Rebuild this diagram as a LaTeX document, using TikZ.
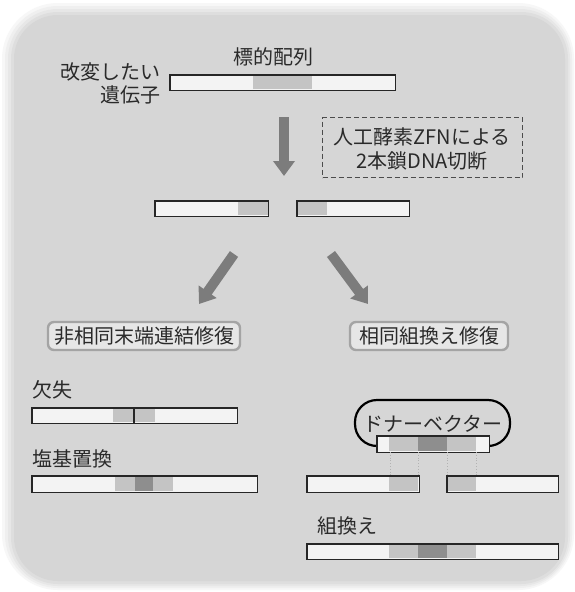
\documentclass[tikz,border=0pt]{standalone}
\usepackage{fontspec}
\setmainfont{Noto Sans CJK JP}
\usetikzlibrary{arrows.meta,calc}
\definecolor{bgpanel}{HTML}{D6D6D6}
\definecolor{barfill}{HTML}{F3F3F3}
\definecolor{lgray}{HTML}{C4C4C4}
\definecolor{dgray}{HTML}{8E8E8E}
\definecolor{arrowgray}{HTML}{7C7C7C}
\definecolor{boxborder}{HTML}{A4A4A4}
\definecolor{boxfill}{HTML}{E6E6E6}
\definecolor{txt}{HTML}{2A2A2A}
\tikzset{
  barbase/.style={fill=barfill, minimum height=15pt, inner sep=0pt, anchor=north west},
  barline/.style={draw=black!85, line width=1.1pt},
  lbl/.style={font=\fontsize{20}{23}\selectfont, text=txt, inner sep=0pt},
  fatarrow/.style={draw=arrowgray, line width=10pt, -{Triangle[width=21pt,length=15pt]}},
  repairbox/.style={draw=boxborder, line width=2.4pt, fill=boxfill, rounded corners=6pt,
    font=\fontsize{20}{23}\selectfont, text=txt, inner sep=0pt},
  pillshape/.style={draw=black, line width=2.2pt, rounded corners=22pt, fill=bgpanel,
    minimum width=155pt, minimum height=46pt, inner sep=0pt},
  guide/.style={draw=gray!60, line width=0.8pt, dotted}
}
\begin{document}
\begin{tikzpicture}[x=1pt,y=-1pt]
\useasboundingbox (0,0) rectangle (575,592);
\fill[white] (0,0) rectangle (575,592);
% background panel with soft edge
\fill[bgpanel!20, rounded corners=56pt] (2,3) rectangle (574,590);
\fill[bgpanel!40, rounded corners=53pt] (5,6) rectangle (572,588);
\fill[bgpanel!60, rounded corners=50pt] (8,9) rectangle (570,586);
\fill[bgpanel!80, rounded corners=47pt] (11,12) rectangle (568,584);
\fill[bgpanel, rounded corners=44pt] (14,15) rectangle (565,581);

% ---- target gene
\node[lbl] (target) at (273,57) {標的配列};
\node[lbl, anchor=east] (gene1) at (161,72) {改変したい};
\node[lbl, anchor=east] (gene2) at (161,95) {遺伝子};
\node[barbase, minimum width=225pt] (topbar) at (170,75) {};
\fill[lgray] (253,76) rectangle (312,89);
\draw[barline] (topbar.north west) rectangle (topbar.south east);

% ---- ZFN cleavage
\coordinate (a1s) at (284,117);
\coordinate (a1e) at (284,176);
\draw[fatarrow] (a1s) -- (a1e);
\node[draw=gray!60!black, dash pattern=on 5pt off 3pt, line width=1pt, minimum width=200pt, minimum height=60pt,
  anchor=north west, inner sep=0pt] (zfn) at (322,117) {};
\node[lbl] (zfn1) at (422,137) {人工酵素ZFNによる};
\node[lbl] (zfn2) at (422,161) {2本鎖DNA切断};

% ---- cut fragments
\node[barbase, minimum width=113pt] (cutL) at (155,201) {};
\fill[lgray] (238,202) rectangle (268,215);
\draw[barline] (cutL.north west) rectangle (cutL.south east);
\node[barbase, minimum width=112pt] (cutR) at (297,201) {};
\fill[lgray] (297,202) rectangle (327,215);
\draw[barline] (cutR.north west) rectangle (cutR.south east);

% ---- branch arrows
\coordinate (a2s) at (234,254);
\coordinate (a2e) at (199,304);
\coordinate (a3s) at (331,254);
\coordinate (a3e) at (368,304);
\draw[fatarrow] (a2s) -- (a2e);
\draw[fatarrow] (a3s) -- (a3e);

% ---- repair pathways
\node[repairbox, minimum width=192pt, minimum height=28pt] (nhej) at (144,336) {非相同末端連結修復};
\node[repairbox, minimum width=158pt, minimum height=28pt] (hr) at (429,336) {相同組換え修復};

% ---- deletion
\node[lbl, anchor=west] (del) at (32,390) {欠失};
\node[barbase, minimum width=205pt] (delbar) at (32,408) {};
\fill[lgray] (113,409) rectangle (133,422);
\fill[lgray] (135,409) rectangle (155,422);
\draw[barline] (delbar.north west) rectangle (delbar.south east);
\draw[black!85, line width=1.1pt] (134,408) -- (134,423);

% ---- base substitution
\node[lbl, anchor=west] (sub) at (32,459) {塩基置換};
\node[barbase, minimum width=225pt, minimum height=16pt] (subbar) at (32,476) {};
\fill[lgray] (115,477) rectangle (135,491);
\fill[dgray] (135,477) rectangle (153,491);
\fill[lgray] (153,477) rectangle (173,491);
\draw[barline] (subbar.north west) rectangle (subbar.south east);

% ---- donor vector
\node[pillshape] (donor) at (432.5,423) {};
\node[lbl] (donortxt) at (433,424) {ドナーベクター};
\node[barbase, minimum width=112pt, minimum height=16pt] (donorbar) at (377,436) {};
\fill[lgray] (389,437) rectangle (418,451);
\fill[dgray] (418,437) rectangle (447,451);
\fill[lgray] (447,437) rectangle (476,451);
\draw[barline] (donorbar.north west) rectangle (donorbar.south east);

% ---- HR fragments
\node[barbase, minimum width=112pt, minimum height=16pt] (hrL) at (307,476) {};
\fill[lgray] (389,477) rectangle (418,491);
\draw[barline] (hrL.north west) rectangle (hrL.south east);
\node[barbase, minimum width=111pt, minimum height=16pt] (hrR) at (447,476) {};
\fill[lgray] (447,477) rectangle (476,491);
\draw[barline] (hrR.north west) rectangle (hrR.south east);

% guides
\coordinate (g1t) at (390,452); \coordinate (g1b) at (390,476);
\coordinate (g2t) at (418,452); \coordinate (g2b) at (418,476);
\coordinate (g3t) at (447,452); \coordinate (g3b) at (447,476);
\coordinate (g4t) at (476,452); \coordinate (g4b) at (476,476);
\draw[guide] (g1t) -- (g1b);
\draw[guide] (g2t) -- (g2b);
\draw[guide] (g3t) -- (g3b);
\draw[guide] (g4t) -- (g4b);

% ---- recombination
\node[lbl, anchor=west] (rec) at (317,526) {組換え};
\node[barbase, minimum width=251pt] (recbar) at (307,544) {};
\fill[lgray] (389,545) rectangle (418,558);
\fill[dgray] (418,545) rectangle (447,558);
\fill[lgray] (447,545) rectangle (476,558);
\draw[barline] (recbar.north west) rectangle (recbar.south east);
\end{tikzpicture}
\end{document}
